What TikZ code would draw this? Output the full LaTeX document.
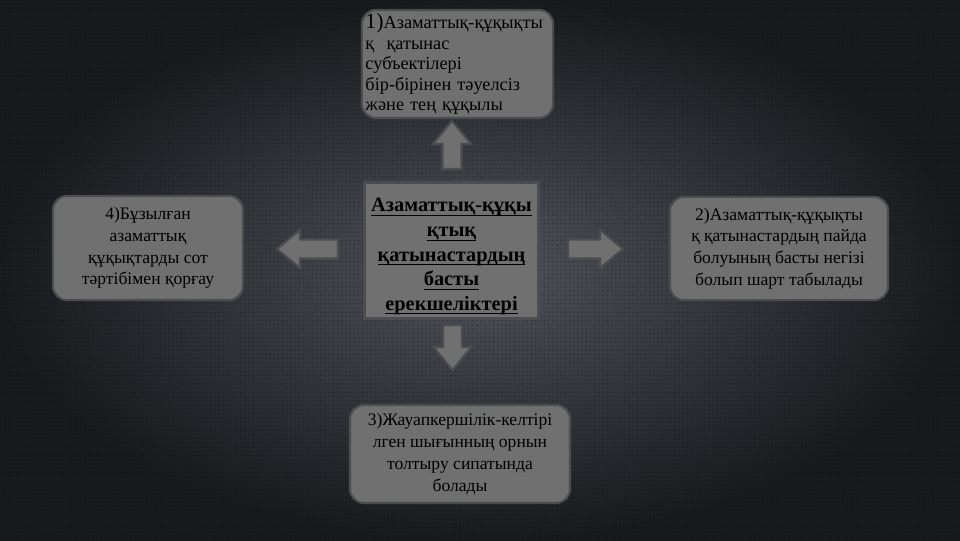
\documentclass[tikz,border=0pt]{standalone}
\usepackage{fontspec}
\setmainfont{Liberation Serif}
\usetikzlibrary{patterns}
\definecolor{boxgray}{RGB}{112,112,113}
\definecolor{boxedge}{RGB}{76,77,80}
\definecolor{bgin}{RGB}{80,83,90}
\definecolor{bgout}{RGB}{24,26,30}
\newcommand{\undl}[1]{\underline{\smash{#1}\rule[-1pt]{0pt}{1pt}}}
\tikzstyle{roundbox}=[rectangle,rounded corners=10pt,fill=boxgray,draw=boxedge,line width=1.5pt,align=center,inner sep=2pt,font=\fontsize{12.5}{15.5}\selectfont]
\tikzstyle{mainbox}=[rectangle,fill=boxgray,draw=boxedge,line width=2pt,align=center,inner sep=1pt,font=\fontsize{14.5}{17.5}\selectfont\bfseries]
\tikzstyle{blockarrow}=[fill=boxgray,draw=boxedge,line width=1.5pt,line join=miter]

\begin{document}
\begin{tikzpicture}[x=0.025cm,y=-0.025cm]

    % background
    \fill[inner color=bgin,outer color=bgout] (0,0) rectangle (960,540);
    \fill[pattern=dots,pattern color=black,opacity=0.35] (0,0) rectangle (960,540);
    \useasboundingbox (0,0) rectangle (960,540);

    \node[mainbox,minimum width=4.33cm,minimum height=3.38cm] (main) at (451.5,250.5)
        {\rule{0pt}{18pt}\undl{Азаматтық-құқы}\\ \undl{қтық}\\ \undl{қатынастардың}\\ \undl{басты}\\ \undl{ерекшеліктері}};

    \node[roundbox,minimum width=4.78cm,minimum height=2.7cm,align=left,text width=4.6cm,font=\fontsize{13}{14.5}\selectfont] (first) at (457.5,64)
        {\mbox{{\fontsize{15.5}{17}\selectfont 1)}Азаматтық-құқықты}\\ қ\ \ қатынас\\ субъектілері\\ бір-бірінен тәуелсіз\\ және тең құқылы};

    \foreach \pos/ \name / \w / \h / \label in {
        {(779,248.5)/second/5.45cm/2.58cm/{2)Азаматтық-құқықты\\ қ қатынастардың пайда\\ болуының басты негізі\\ болып шарт табылады}},
        {(460,454)/third/5.5cm/2.45cm/{3)Жауапкершілік-келтірі\\ лген шығынның орнын\\ толтыру сипатында\\ болады}},
        {(148,248)/fourth/4.75cm/2.6cm/{4)Бұзылған\\ азаматтық\\ құқықтарды сот\\ тәртібімен қорғау}}}
        \node[roundbox,minimum width=\w,minimum height=\h] (\name) at \pos {\label};

    % arrows out of the main box
    \foreach \pos/ \ang / \len in {(452,145)/90/48,(307.5,249)/180/61,(595.5,249)/0/55,(452.5,347.5)/270/45}
        \draw[blockarrow,shift={\pos},rotate=\ang]
            (\len/2,0) -- (\len/2-23,19) -- (\len/2-23,9.5) -- (-\len/2,9.5)
            -- (-\len/2,-9.5) -- (\len/2-23,-9.5) -- (\len/2-23,-19) -- cycle;

\end{tikzpicture}
\end{document}
